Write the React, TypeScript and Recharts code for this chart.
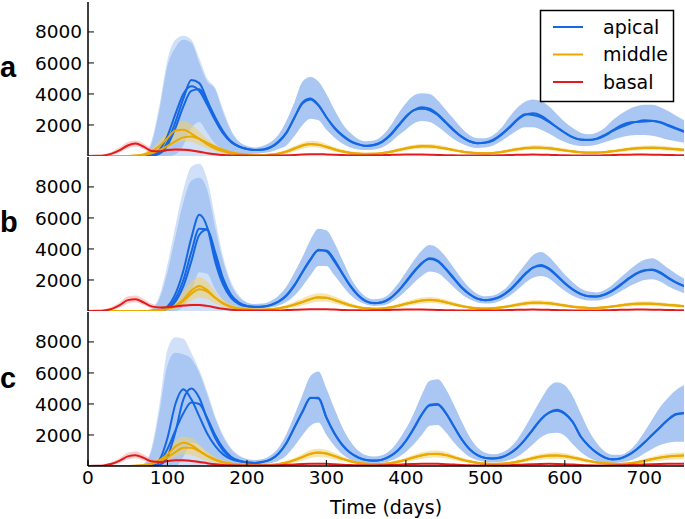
import React from 'react'
import { ComposedChart, Area, Line, XAxis, YAxis } from 'recharts'

// sampling grid, every 10 days
const days = Array.from({ length: 76 }, (_, i) => i * 10)
const xTicks = [0, 100, 200, 300, 400, 500, 600, 700]
const yTicks = [2000, 4000, 6000, 8000]
const seriesNames = ['apical', 'middle', 'basal']

// ---- panel a ----
const apicalA1 = [0, 0, 0, 0, 0, 0, 0, 0, 20, 200, 900, 2200, 3700, 4900, 4700, 3600, 2400, 1500, 900, 600,
  450, 380, 400, 550, 900, 1500, 2500, 3450, 3700, 3300,
  2500, 1800, 1300, 950, 750, 650, 700, 900, 1300, 1900,
  2500, 2950, 3150, 3050, 2700, 2200, 1700, 1250, 950, 820,
  850, 1000, 1350, 1800, 2300, 2650, 2750, 2600, 2250, 1850,
  1500, 1200, 1050, 1030, 1100, 1300, 1600, 1850, 2050, 2200,
  2300, 2280, 2150, 1950, 1750, 1550]
const apicalA2 = [0, 0, 0, 0, 0, 0, 0, 0, 50, 400, 1300, 2700, 4000, 4500, 4200, 3300, 2300, 1450, 900, 600,
  450, 390, 420, 580, 950, 1550, 2500, 3400, 3650, 3250,
  2500, 1850, 1350, 980, 760, 660, 720, 930, 1350, 1950,
  2550, 2950, 3050, 2950, 2650, 2150, 1650, 1250, 950, 830,
  870, 1050, 1400, 1850, 2350, 2700, 2650, 2500, 2200, 1850,
  1500, 1220, 1060, 1040, 1120, 1350, 1650, 1950, 2150, 2200,
  2220, 2250, 2200, 2000, 1800, 1600]
const apicalA3 = [0, 0, 0, 0, 0, 0, 0, 0, 20, 150, 700, 1800, 3200, 4200, 4300, 3500, 2500, 1600, 950, 620, 450]
const apicalAHi = [0, 0, 0, 0, 0, 0, 0, 50, 800, 3000, 5800, 7000, 7500, 7300, 6000, 4800, 4300, 2800, 1600, 900,
  650, 550, 650, 900, 1400, 2300, 3500, 4800, 5100, 4800,
  4000, 3000, 2100, 1500, 1100, 950, 1000, 1300, 1900, 2700,
  3400, 3900, 4050, 4000, 3600, 3000, 2400, 1800, 1350, 1150,
  1150, 1350, 1800, 2500, 3100, 3500, 3650, 3550, 3200, 2700,
  2200, 1800, 1500, 1400, 1500, 1800, 2300, 2700, 3000, 3200,
  3300, 3300, 3150, 2900, 2600, 2300]
const apicalALo = [0, 0, 0, 0, 0, 0, 0, 0, 0, 0, 0, 100, 700, 1800, 2200, 1500, 800, 400, 250, 200,
  150, 150, 200, 280, 450, 700, 1300, 2000, 2400, 2300,
  1700, 1200, 800, 550, 420, 380, 420, 550, 850, 1300,
  1700, 2100, 2250, 2200, 1900, 1500, 1100, 800, 600, 520,
  550, 680, 950, 1300, 1650, 1850, 1850, 1700, 1450, 1150,
  900, 720, 650, 650, 720, 880, 1050, 1200, 1300, 1350,
  1350, 1300, 1200, 1050, 950, 850]
const apicalASpike = [0, 0, 0, 0, 0, 0, 0, 100, 1000, 3300, 6200, 7500, 7750, 7500, 6300, 5000, 4400, 3000, 1700, 950, 650]
const middleA1 = [0, 0, 0, 0, 0, 0, 30, 100, 300, 650, 1150, 1650, 1700, 1450, 1100, 750, 480, 300, 180, 110,
  80, 60, 60, 80, 150, 280, 470, 660, 760, 720,
  580, 420, 290, 200, 150, 130, 140, 180, 260, 370,
  480, 570, 620, 620, 570, 480, 380, 290, 220, 180,
  170, 190, 250, 340, 430, 500, 540, 540, 500, 430,
  360, 290, 240, 210, 210, 240, 300, 370, 440, 490,
  520, 530, 510, 470, 430, 390]
const middleA2 = [0, 0, 0, 0, 0, 0, 20, 60, 180, 380, 650, 950, 1200, 1250, 1100, 850, 600, 400, 250, 150,
  100, 70, 70, 90, 160, 300, 500, 690, 780, 730,
  600, 440, 300, 210, 160, 140, 150, 190, 270, 390,
  500, 590, 640, 630, 570, 480, 380, 290, 220, 190,
  180, 200, 260, 350, 440, 510, 550, 540, 500, 440,
  370, 300, 250, 220, 220, 250, 310, 380, 450, 500,
  530, 540, 520, 480, 440, 400]
const middleAHi = [0, 0, 0, 0, 0, 20, 80, 200, 500, 1000, 1600, 2100, 2250, 2050, 1600, 1100, 750, 480, 300, 200,
  150, 120, 120, 150, 250, 420, 650, 860, 980, 930,
  780, 580, 420, 300, 230, 200, 210, 260, 360, 500,
  620, 720, 780, 780, 720, 620, 500, 390, 300, 250,
  240, 270, 340, 450, 560, 650, 700, 700, 650, 570,
  480, 390, 330, 290, 290, 330, 400, 490, 570, 630,
  670, 680, 660, 610, 560, 510]
const middleALo = [0, 0, 0, 0, 0, 0, 0, 0, 80, 250, 500, 800, 950, 900, 700, 480, 300, 180, 100, 60,
  40, 30, 30, 40, 80, 160, 300, 460, 560, 530,
  420, 290, 190, 120, 80, 70, 80, 110, 170, 260,
  350, 430, 470, 470, 420, 350, 270, 200, 150, 120,
  110, 120, 170, 240, 310, 370, 400, 400, 370, 310,
  250, 200, 160, 140, 140, 160, 210, 260, 320, 360,
  380, 390, 370, 340, 310, 280]
const basalA = [0, 10, 40, 150, 380, 680, 800, 600, 330, 300,
  380, 420, 400, 360, 280, 180, 110, 60, 40, 30,
  25, 20, 20, 25, 35, 50, 70, 95, 110, 120,
  100, 80, 60, 45, 40, 40, 45, 55, 70, 85,
  95, 100, 95, 85, 70, 55, 45, 35, 30, 30,
  30, 35, 45, 60, 75, 85, 90, 85, 75, 60,
  45, 35, 30, 30, 35, 45, 60, 75, 85, 90,
  90, 85, 75, 65, 55, 50]
const basalAHi = [0, 30, 100, 280, 560, 900, 1000, 800, 500, 420, 480, 520, 500, 450, 360, 250, 160, 100, 70, 50, 40]
const basalALo = [0, 0, 10, 60, 220, 480, 620, 430, 200, 190, 280, 320, 300, 270, 200, 120, 70, 30, 15, 10, 10]

// ---- panel b ----
const apicalB1 = [0, 0, 0, 0, 0, 0, 0, 0, 0, 50, 300, 1100, 2600, 4700, 6200, 5400, 3200, 1700, 850, 450,
  300, 260, 280, 380, 600, 1000, 1650, 2500, 3300, 3950,
  3850, 3200, 2400, 1600, 1000, 620, 500, 560, 800, 1250,
  1850, 2500, 3050, 3400, 3250, 2750, 2150, 1550, 1100, 800,
  700, 760, 950, 1300, 1800, 2350, 2800, 2970, 2750, 2300,
  1800, 1400, 1100, 950, 930, 1050, 1300, 1650, 2050, 2400,
  2600, 2680, 2500, 2150, 1850, 1600]
const apicalB2 = [0, 0, 0, 0, 0, 0, 0, 0, 0, 30, 200, 800, 2000, 3800, 5300, 5250, 3500, 1900, 950, 500,
  320, 270, 290, 390, 620, 1030, 1700, 2550, 3350, 3900,
  3900, 3300, 2450, 1650, 1020, 640, 510, 570, 820, 1280,
  1900, 2550, 3100, 3350, 3200, 2700, 2100, 1520, 1080, 790,
  700, 770, 970, 1330, 1850, 2400, 2800, 2900, 2700, 2250,
  1780, 1380, 1090, 950, 940, 1070, 1330, 1700, 2100, 2430,
  2620, 2650, 2450, 2120, 1830, 1600]
const apicalB3 = [0, 0, 0, 0, 0, 0, 0, 0, 0, 20, 150, 600, 1600, 3200, 4900, 5250, 3800, 2100, 1050, 550, 330]
const apicalBHi = [0, 0, 0, 0, 0, 0, 0, 0, 100, 800, 2500, 4800, 7000, 8400, 8600, 7800, 5400, 3200, 1700, 900,
  550, 450, 480, 650, 1000, 1600, 2500, 3500, 4600, 5300,
  5200, 4400, 3300, 2200, 1400, 900, 750, 820, 1150, 1750,
  2500, 3250, 3900, 4250, 4050, 3500, 2800, 2100, 1500, 1100,
  950, 1000, 1250, 1700, 2350, 3000, 3600, 3800, 3500, 2950,
  2350, 1850, 1450, 1250, 1200, 1350, 1700, 2150, 2600, 3000,
  3300, 3400, 3150, 2750, 2400, 2100]
const apicalBLo = [0, 0, 0, 0, 0, 0, 0, 0, 0, 0, 0, 0, 300, 1200, 2500, 2400, 1400, 700, 350, 220,
  170, 150, 160, 220, 350, 600, 1000, 1600, 2300, 2900,
  2900, 2300, 1650, 1050, 650, 420, 330, 360, 520, 850,
  1300, 1800, 2250, 2550, 2450, 2050, 1550, 1100, 750, 550,
  480, 520, 680, 950, 1350, 1800, 2150, 2250, 2100, 1700,
  1300, 980, 770, 680, 680, 780, 970, 1250, 1550, 1800,
  2000, 2050, 1900, 1600, 1350, 1150]
const apicalBSpike = [0, 0, 0, 0, 0, 0, 0, 0, 150, 1000, 3000, 5500, 7800, 9300, 9500, 8500, 6000, 3500, 1900, 1000, 550]
const middleB1 = [0, 0, 0, 0, 0, 0, 0, 0, 20, 60, 150, 350, 750, 1300, 1620, 1350, 850, 480, 260, 150,
  100, 80, 80, 110, 170, 270, 410, 580, 760, 880,
  860, 720, 540, 370, 250, 170, 140, 160, 220, 330,
  460, 580, 680, 720, 680, 570, 440, 320, 230, 180,
  160, 180, 230, 310, 400, 480, 530, 540, 500, 430,
  350, 280, 230, 200, 200, 230, 290, 360, 420, 460,
  480, 470, 440, 390, 350, 310]
const middleB2 = [0, 0, 0, 0, 0, 0, 0, 0, 15, 50, 120, 300, 650, 1100, 1400, 1250, 850, 500, 280, 160,
  110, 85, 85, 115, 180, 280, 420, 590, 770, 870,
  850, 710, 530, 365, 245, 170, 140, 160, 225, 335,
  465, 585, 680, 710, 670, 560, 430, 315, 230, 180,
  160, 180, 235, 315, 405, 485, 530, 535, 495, 425,
  350, 280, 230, 200, 200, 235, 295, 365, 425, 460,
  475, 465, 435, 390, 350, 310]
const middleBHi = [0, 0, 0, 0, 0, 0, 10, 30, 80, 180, 380, 700, 1250, 1900, 2200, 1900, 1250, 750, 430, 260,
  180, 140, 140, 180, 270, 410, 600, 820, 1030, 1150,
  1120, 950, 730, 520, 360, 260, 220, 240, 320, 460,
  620, 760, 870, 910, 860, 740, 580, 430, 320, 260,
  230, 260, 320, 420, 530, 630, 690, 700, 650, 570,
  470, 380, 320, 280, 280, 320, 390, 470, 550, 600,
  620, 610, 570, 510, 460, 410]
const middleBLo = [0, 0, 0, 0, 0, 0, 0, 0, 0, 10, 40, 120, 320, 650, 850, 750, 480, 260, 140, 80,
  50, 40, 40, 55, 90, 150, 240, 360, 500, 600,
  590, 490, 360, 240, 160, 110, 90, 100, 140, 210,
  300, 400, 480, 520, 490, 400, 300, 220, 160, 120,
  110, 120, 160, 210, 280, 340, 380, 390, 360, 300,
  240, 190, 150, 130, 130, 150, 190, 240, 290, 320,
  340, 330, 310, 270, 240, 210]
const basalB = [0, 10, 40, 140, 380, 700, 760, 550, 300, 230,
  240, 290, 350, 390, 390, 330, 230, 140, 80, 50,
  30, 25, 25, 30, 40, 60, 80, 100, 115, 120,
  110, 90, 70, 55, 45, 40, 45, 55, 70, 85,
  95, 100, 95, 85, 70, 55, 45, 35, 30, 30,
  30, 35, 45, 60, 75, 85, 90, 85, 75, 60,
  45, 35, 30, 30, 35, 45, 60, 75, 85, 90,
  90, 85, 75, 65, 55, 50]
const basalBHi = [0, 30, 100, 270, 560, 950, 1000, 780, 480, 360, 340, 380, 450, 490, 490, 420, 300, 190, 110, 70, 50]
const basalBLo = [0, 0, 10, 60, 220, 480, 560, 380, 180, 130, 150, 200, 260, 300, 300, 250, 170, 100, 50, 30, 15]

// ---- panel c ----
const apicalC1 = [0, 0, 0, 0, 0, 0, 0, 0, 0, 80, 600, 2200, 4300, 5000, 4400, 3000, 1800, 1000, 550, 330,
  240, 200, 260, 420, 800, 1500, 2500, 3500, 4400, 4350,
  3100, 2100, 1350, 850, 550, 380, 340, 400, 620, 1000,
  1600, 2400, 3300, 3950, 4000, 3450, 2600, 1750, 1100, 700,
  520, 480, 550, 780, 1150, 1700, 2350, 3000, 3450, 3620,
  3400, 2850, 1900, 1300, 850, 550, 420, 480, 700, 1050,
  1500, 2000, 2500, 3000, 3350, 3420]
const apicalC2 = [0, 0, 0, 0, 0, 0, 0, 0, 50, 400, 1800, 4000, 4950, 4300, 3200, 2100, 1300, 750, 450, 300,
  230, 200, 270, 430, 820, 1520, 2520, 3520, 4380, 4400,
  3150, 2130, 1370, 860, 560, 390, 350, 410, 630, 1020,
  1630, 2450, 3330, 3900, 3950, 3420, 2580, 1740, 1090, 700,
  520, 490, 560, 790, 1170, 1720, 2380, 3020, 3420, 3560,
  3360, 2820, 1900, 1310, 860, 560, 430, 490, 710, 1060,
  1510, 2010, 2500, 2980, 3320, 3400]
const apicalC3 = [0, 0, 0, 0, 0, 0, 0, 0, 30, 250, 1100, 2300, 3400, 4100, 4000, 3100, 2000, 1150, 600, 350, 250]
const apicalCHi = [0, 0, 0, 0, 0, 0, 0, 100, 1000, 3500, 6500, 7300, 7200, 6900, 6000, 4600, 3100, 1900, 1100, 650,
  450, 380, 450, 700, 1200, 2100, 3300, 4600, 5800, 6100,
  5000, 3700, 2500, 1600, 1000, 700, 620, 700, 1000, 1600,
  2400, 3400, 4600, 5500, 5600, 5000, 4000, 2900, 1900, 1200,
  850, 750, 850, 1150, 1700, 2500, 3400, 4300, 5100, 5400,
  5200, 4500, 3400, 2300, 1500, 950, 720, 720, 950, 1450,
  2200, 3000, 3800, 4400, 4900, 5200]
const apicalCLo = [0, 0, 0, 0, 0, 0, 0, 0, 0, 0, 0, 0, 600, 1500, 1300, 800, 450, 250, 160, 120,
  100, 90, 110, 180, 350, 700, 1300, 2000, 2600, 2800,
  2000, 1300, 750, 420, 250, 190, 180, 210, 330, 550,
  900, 1400, 2000, 2600, 2650, 2200, 1550, 1000, 600, 370,
  260, 230, 260, 380, 600, 950, 1400, 1850, 2100, 2150,
  1950, 1400, 900, 550, 330, 230, 200, 230, 320, 500,
  800, 1100, 1350, 1500, 1560, 1570]
const apicalCSpike = [0, 0, 0, 0, 0, 0, 0, 150, 1200, 4000, 7500, 8300, 8200, 7300, 6200, 4800, 3200, 2000, 1150, 700, 450]
const middleC1 = [0, 0, 0, 0, 0, 0, 20, 60, 170, 380, 750, 1250, 1500, 1350, 1000, 650, 400, 240, 140, 90,
  60, 50, 50, 70, 120, 220, 380, 580, 780, 860,
  800, 640, 460, 310, 200, 140, 120, 130, 180, 270,
  400, 550, 680, 770, 780, 700, 560, 410, 290, 200,
  150, 130, 140, 190, 270, 380, 500, 600, 660, 670,
  630, 540, 430, 320, 230, 170, 140, 130, 160, 230,
  330, 440, 540, 610, 650, 670]
const middleC2 = [0, 0, 0, 0, 0, 0, 10, 40, 120, 280, 550, 900, 1170, 1180, 950, 650, 400, 240, 140, 90,
  60, 50, 55, 75, 125, 225, 390, 590, 790, 870,
  810, 650, 470, 320, 210, 150, 125, 135, 185, 280,
  410, 560, 690, 780, 790, 710, 570, 420, 300, 210,
  160, 135, 145, 195, 280, 390, 510, 610, 670, 680,
  640, 550, 440, 330, 240, 175, 145, 135, 165, 235,
  335, 445, 545, 615, 655, 675]
const middleCHi = [0, 0, 0, 0, 0, 10, 50, 130, 300, 600, 1050, 1600, 1900, 1800, 1400, 950, 600, 370, 220, 140,
  100, 85, 85, 110, 180, 320, 530, 780, 1030, 1120,
  1050, 850, 620, 430, 290, 210, 180, 190, 260, 380,
  540, 720, 880, 990, 1000, 900, 730, 550, 400, 290,
  220, 190, 200, 260, 370, 510, 660, 790, 860, 870,
  820, 710, 570, 430, 320, 240, 200, 190, 230, 320,
  450, 590, 720, 810, 860, 890]
const middleCLo = [0, 0, 0, 0, 0, 0, 0, 0, 50, 150, 350, 600, 750, 700, 520, 340, 200, 120, 70, 40,
  30, 25, 25, 35, 60, 120, 220, 360, 520, 580,
  540, 420, 300, 190, 120, 80, 70, 75, 105, 160,
  250, 360, 460, 540, 550, 490, 380, 280, 190, 130,
  95, 80, 85, 115, 170, 250, 340, 410, 450, 460,
  430, 360, 290, 210, 150, 110, 90, 85, 100, 140,
  200, 270, 340, 390, 420, 440]
const basalC = [0, 10, 40, 140, 350, 620, 700, 520, 300, 260,
  320, 370, 370, 330, 260, 180, 110, 70, 45, 30,
  25, 25, 30, 40, 55, 75, 100, 125, 140, 150,
  140, 115, 85, 60, 45, 40, 40, 50, 65, 85,
  110, 130, 145, 150, 140, 120, 95, 70, 50, 40,
  35, 35, 40, 55, 75, 100, 120, 135, 140, 135,
  120, 95, 70, 50, 40, 35, 35, 45, 60, 80,
  100, 120, 135, 145, 150, 150]
const basalCHi = [0, 30, 100, 260, 520, 850, 950, 740, 460, 390, 440, 480, 470, 420, 340, 240, 160, 100, 70, 50, 40]
const basalCLo = [0, 0, 10, 50, 200, 420, 500, 340, 170, 160, 220, 270, 270, 240, 180, 120, 70, 40, 25, 15, 10]

const BLUE = '#1567e3'
const BLUE_BAND = '#a9c7f2'
const BLUE_SPIKE = '#cfe0f8'
const ORANGE = '#e9a900'
const ORANGE_BAND = '#f2cf6a'
const RED = '#e41a1c'
const RED_BAND = '#f4a6a6'
const FONT = "'DejaVu Sans', sans-serif"

interface Panel {
  ap1: number[]; ap2: number[]; ap3: number[]; apHi: number[]; apLo: number[]; apSpike: number[]
  mi1: number[]; mi2: number[]; miHi: number[]; miLo: number[]
  ba: number[]; baHi: number[]; baLo: number[]
}

const panels: Panel[] = [
  { ap1: apicalA1, ap2: apicalA2, ap3: apicalA3, apHi: apicalAHi, apLo: apicalALo, apSpike: apicalASpike,
    mi1: middleA1, mi2: middleA2, miHi: middleAHi, miLo: middleALo, ba: basalA, baHi: basalAHi, baLo: basalALo },
  { ap1: apicalB1, ap2: apicalB2, ap3: apicalB3, apHi: apicalBHi, apLo: apicalBLo, apSpike: apicalBSpike,
    mi1: middleB1, mi2: middleB2, miHi: middleBHi, miLo: middleBLo, ba: basalB, baHi: basalBHi, baLo: basalBLo },
  { ap1: apicalC1, ap2: apicalC2, ap3: apicalC3, apHi: apicalCHi, apLo: apicalCLo, apSpike: apicalCSpike,
    mi1: middleC1, mi2: middleC2, miHi: middleCHi, miLo: middleCLo, ba: basalC, baHi: basalCHi, baLo: basalCLo },
]

const early = (arr: number[], i: number) => (i < arr.length ? arr[i] : null)

function buildRows(p: Panel) {
  return days.map((day, i) => ({
    day,
    apSpike: i < p.apSpike.length ? [0, p.apSpike[i]] : null,
    apBand: [p.apLo[i], p.apHi[i]],
    miBand: [p.miLo[i], p.miHi[i]],
    baBand: i < p.baHi.length ? [p.baLo[i], p.baHi[i]] : null,
    ap1: p.ap1[i],
    ap2: p.ap2[i],
    ap3: early(p.ap3, i),
    mi1: p.mi1[i],
    mi2: p.mi2[i],
    ba: p.ba[i],
  }))
}

const axisLine = { stroke: '#000', strokeWidth: 1.5 }
const tickLine = { stroke: '#000', strokeWidth: 1 }
const tickFont = { fontSize: 18.5, fill: '#000', fontFamily: FONT }

function PanelChart({ panel, top, showX }: { panel: Panel; top: number; showX: boolean }) {
  const rows = buildRows(panel)
  const height = showX ? 209 : 158
  const common = { xAxisId: 'b', yAxisId: 'l', isAnimationActive: false }
  return (
    <div style={{ position: 'absolute', left: 0, top }}>
      <ComposedChart width={685} height={height} data={rows}
        margin={{ top: 2, right: 1, left: 8, bottom: showX ? 23 : 2 }}>
        <XAxis xAxisId="b" dataKey="day" type="number" domain={[0, 750]} ticks={xTicks}
          allowDataOverflow tickSize={-6} tickMargin={11} axisLine={axisLine} tickLine={tickLine}
          tick={tickFont} tickFormatter={showX ? undefined : () => ''} height={showX ? 30 : 0} />
        <XAxis xAxisId="t" orientation="top" dataKey="day" type="number" domain={[0, 750]}
          ticks={xTicks} allowDataOverflow tickSize={-6} axisLine={axisLine} tickLine={tickLine}
          tickFormatter={() => ''} height={0} />
        <YAxis yAxisId="l" domain={[0, 9930]} ticks={yTicks} allowDataOverflow width={80}
          tickSize={-6} tickMargin={12} axisLine={axisLine} tickLine={tickLine} tick={tickFont} />
        <YAxis yAxisId="r" orientation="right" domain={[0, 9930]} ticks={yTicks} allowDataOverflow
          width={0} tickSize={-6} axisLine={axisLine} tickLine={tickLine} tickFormatter={() => ''} />

        <Area {...common} dataKey="apSpike" type="monotone" stroke="none" fill={BLUE_SPIKE} fillOpacity={1} />
        <Area {...common} dataKey="apBand" type="monotone" stroke="none" fill={BLUE_BAND} fillOpacity={1} />
        <Area {...common} dataKey="miBand" type="monotone" stroke="none" fill={ORANGE_BAND} fillOpacity={0.55} />
        <Area {...common} dataKey="baBand" type="monotone" stroke="none" fill={RED_BAND} fillOpacity={0.55} />

        <Line {...common} dataKey="ap3" type="monotone" stroke={BLUE} strokeWidth={2} dot={false} />
        <Line {...common} dataKey="ap2" type="monotone" stroke={BLUE} strokeWidth={2} dot={false} />
        <Line {...common} dataKey="ap1" type="monotone" stroke={BLUE} strokeWidth={2} dot={false} />
        <Line {...common} dataKey="mi2" type="monotone" stroke={ORANGE} strokeWidth={2} dot={false} />
        <Line {...common} dataKey="mi1" type="monotone" stroke={ORANGE} strokeWidth={2} dot={false} />
        <Line {...common} dataKey="ba" type="monotone" stroke={RED} strokeWidth={2} dot={false} />
      </ComposedChart>
    </div>
  )
}

const panelLetters = ['a', 'b', 'c']
const panelTops = [0, 155, 310]
const letterBaselines = [77, 232, 388]
const legendColors = [BLUE, ORANGE, RED]

export default function App() {
  return (
    <div style={{ position: 'absolute', left: 0, top: 0, width: 685, height: 519, background: '#fff', overflow: 'hidden' }}>
      {panels.map((p, i) => (
        <PanelChart key={i} panel={p} top={panelTops[i]} showX={i === 2} />
      ))}
      <svg width={685} height={519} style={{ position: 'absolute', left: 0, top: 0, pointerEvents: 'none' }}>
        {panelLetters.map((l, i) => (
          <text key={l} x={0} y={letterBaselines[i]} fontSize={29} fontWeight="bold"
            fontFamily="'Liberation Sans', Arial, sans-serif" fill="#000">{l}</text>
        ))}
        <text x={386} y={514} textAnchor="middle" fontSize={19} fontFamily={FONT} fill="#000">Time (days)</text>
        <rect x={540.5} y={10.5} width={133} height={91} fill="#fff" stroke="#000" strokeWidth={1.5} />
        {seriesNames.map((n, i) => (
          <g key={n}>
            <line x1={553} x2={583} y1={27 + i * 27.5} y2={27 + i * 27.5} stroke={legendColors[i]} strokeWidth={2} />
            <text x={603} y={33.5 + i * 27.5} fontSize={19} fontFamily={FONT} fill="#000">{n}</text>
          </g>
        ))}
      </svg>
    </div>
  )
}
